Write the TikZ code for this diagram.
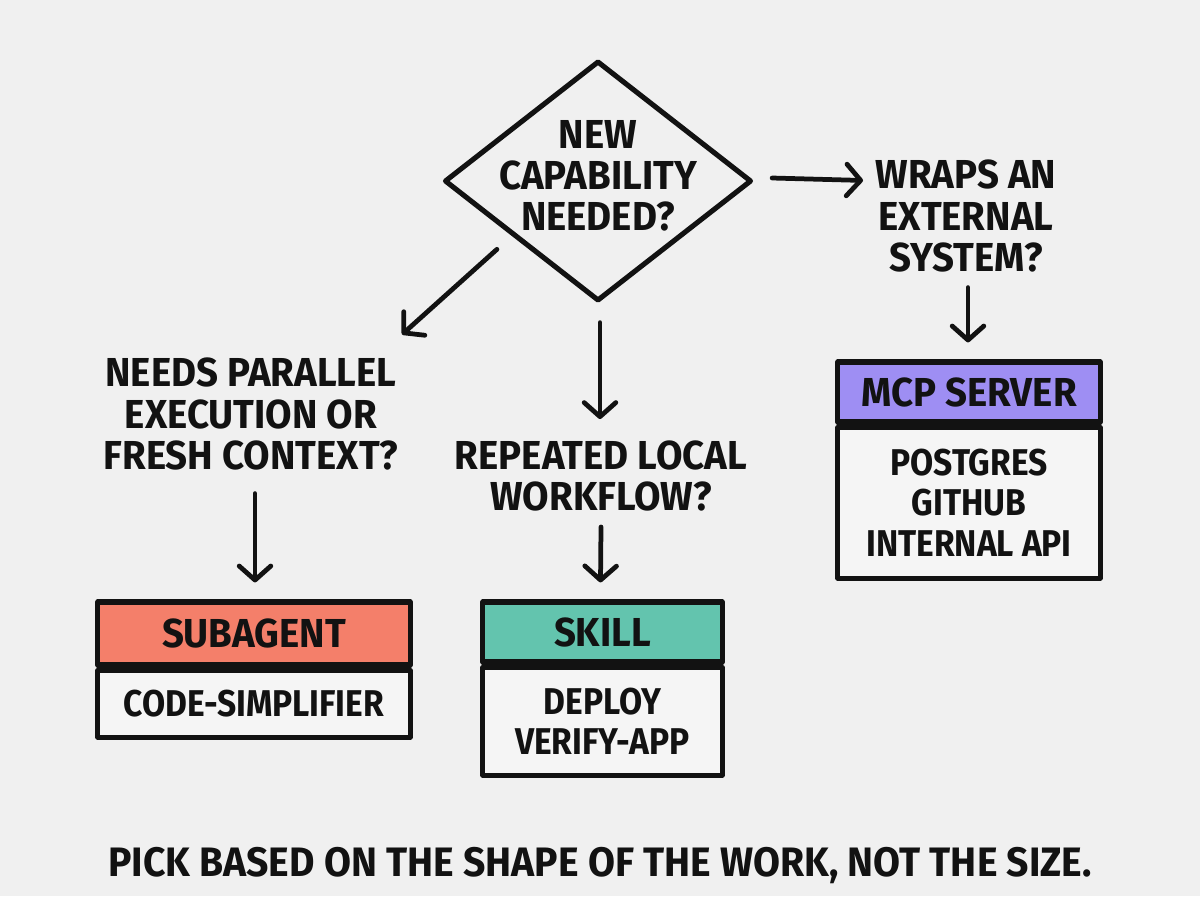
\documentclass[tikz,border=0pt]{standalone}
\usepackage{fontspec}
\setmainfont{Fira Sans}[FakeStretch=0.95]
\newfontfamily\condfont{Fira Sans}[FakeStretch=0.9]
\usetikzlibrary{shapes.geometric,arrows.meta,calc}
\definecolor{bg}{RGB}{240,240,240}
\definecolor{boxbg}{RGB}{245,245,245}
\definecolor{salmon}{RGB}{244,127,106}
\definecolor{teal}{RGB}{99,196,174}
\definecolor{purple}{RGB}{158,142,243}
\definecolor{ink}{RGB}{18,18,18}
\begin{document}
\begin{tikzpicture}[x=0.01cm,y=-0.01cm,line join=round,line cap=round,
  lbl/.style={align=center,font=\bfseries\fontsize{11.5}{11.7}\selectfont,inner sep=0,text=ink},
  arr/.style={draw=ink,line width=1.35pt,-{Straight Barb[length=4pt,width=9pt,line cap=round,line join=round]}},
  hdr/.style={draw=ink,line width=1.45pt,inner sep=0,font=\bfseries\fontsize{11.5}{11.7}\selectfont,text=ink},
  bodybox/.style={draw=ink,line width=1.45pt,fill=boxbg,inner sep=0,align=center,font=\condfont\bfseries\fontsize{10.6}{11.4}\selectfont,text=ink}]
\fill[bg] (0,0) rectangle (1200,896);
\useasboundingbox (0,0) rectangle (1200,896);

% decision diamond
\node[draw=ink,line width=1.45pt,diamond,minimum width=3.07cm,minimum height=2.40cm,inner sep=0] (d) at (598,181) {};
\node[lbl] (dq) at (598,176) {NEW\\CAPABILITY\\NEEDED?};

% questions
\node[lbl] (needs) at (251,414) {NEEDS PARALLEL\\EXECUTION OR\\FRESH CONTEXT?};
\node[lbl] (rep) at (601,476) {REPEATED LOCAL\\WORKFLOW?};
\node[lbl] (wraps) at (966,216) {WRAPS AN\\EXTERNAL\\SYSTEM?};

% subagent box
\node[hdr,fill=salmon,minimum width=3.12cm,minimum height=0.63cm] (sa) at (254,633.5) {SUBAGENT};
\node[bodybox,minimum width=3.12cm,minimum height=0.67cm,anchor=north] (sab) at (sa.south) {CODE-SIMPLIFIER};

% skill box
\node[hdr,fill=teal,minimum width=2.39cm,minimum height=0.60cm] (sk) at (602.5,632) {SKILL};
\node[bodybox,minimum width=2.39cm,minimum height=1.08cm,anchor=north] (skb) at (sk.south) {DEPLOY\\VERIFY-APP};

% mcp box
\node[hdr,fill=purple,minimum width=2.62cm,minimum height=0.60cm] (mcp) at (969,392) {MCP SERVER};
\node[bodybox,minimum width=2.62cm,minimum height=1.51cm,anchor=north] (mcpb) at (mcp.south) {POSTGRES\\GITHUB\\INTERNAL API};

% arrows
\draw[arr] ($(d.south west)+(-23,7)$) -- ($(needs.north east)+(3,-23)$);
\draw[arr] ($(d.south)+(2,19)$) -- ($(rep.north)+(-1,-21)$);
\draw[arr] ($(d.east)+(18,-3)$) -- ($(wraps.north west)+(-12,21)$);
\draw[arr] ($(wraps.south)+(2,15)$) -- ($(mcp.north)+(-1,-17)$);
\draw[arr] ($(needs.south)+(4,23)$) -- ($(sa.north)+(1,-17)$);
\draw[arr] ($(rep.south)+(0,15)$) -- ($(sk.north)+(-2,-17)$);

% footer
\node[lbl,font=\bfseries\fontsize{11.7}{12}\selectfont] (foot) at (600,866) {PICK BASED ON THE SHAPE OF THE WORK, NOT THE SIZE.};
\end{tikzpicture}
\end{document}
